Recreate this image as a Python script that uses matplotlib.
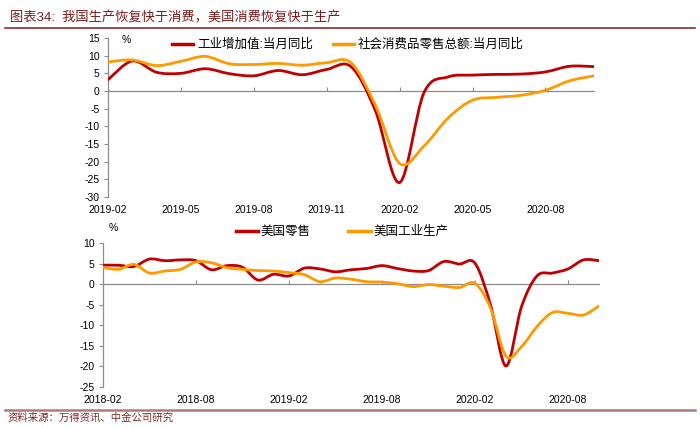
"""
plot.py
-------
Two stacked panels: China IP vs retail sales (top), US retail vs US IP (bottom).
Lines are drawn Excel-style (smoothed through the monthly points).

    python plot.py   ->  out.png
"""

import numpy as np
import pandas as pd
import matplotlib
matplotlib.use("Agg")
import matplotlib.pyplot as plt
from matplotlib.lines import Line2D
from matplotlib.patches import PathPatch
from matplotlib.path import Path

plt.rcParams["font.family"] = ["Liberation Sans", "Noto Sans CJK SC", "DejaVu Sans"]
plt.rcParams["axes.unicode_minus"] = False

# ── data ──────────────────────────────────────────────────────────────────────
TITLE  = "图表34:  我国生产恢复快于消费，美国消费恢复快于生产"
SOURCE = "资料来源：万得资讯、中金公司研究"

# top panel: 2019-02 .. 2020-10, monthly yoy %
cn_months = pd.period_range("2019-02", "2020-10", freq="M").strftime("%Y-%m").tolist()
cn_ip     = [3.2, 8.5, 5.3, 5.0, 6.3, 4.9, 4.3, 5.8, 4.6, 6.1, 6.9, -5.5,
             -25.9, -0.5, 4.0, 4.5, 4.7, 4.8, 5.4, 7.0, 6.9]
cn_retail = [8.2, 8.8, 7.2, 8.4, 9.8, 7.7, 7.5, 7.8, 7.3, 8.0, 8.0, -4.0,
             -20.5, -15.6, -7.6, -2.6, -1.8, -1.2, 0.2, 2.9, 4.3]
cn_labels = ["工业增加值:当月同比", "社会消费品零售总额:当月同比"]
cn_yticks = [-30, -25, -20, -15, -10, -5, 0, 5, 10, 15]

# bottom panel: 2018-02 .. 2020-10, monthly yoy %
us_months = pd.period_range("2018-02", "2020-10", freq="M").strftime("%Y-%m").tolist()
us_retail = [4.6, 4.6, 4.3, 6.1, 5.7, 5.9, 5.7, 3.5, 4.5, 4.1, 1.0, 2.4,
             2.0, 3.9, 3.7, 3.0, 3.5, 3.8, 4.5, 3.8, 3.2, 3.3, 5.5, 4.9,
             5.1, -5.0, -19.9, -5.5, 2.0, 2.7, 3.7, 5.9, 5.7]
us_ip     = [4.1, 3.6, 4.8, 2.7, 3.2, 3.6, 5.4, 5.2, 4.0, 3.6, 3.3, 3.2,
             2.8, 2.3, 0.6, 1.5, 1.2, 0.6, 0.5, 0.1, -0.6, -0.1, -0.5, -0.8,
             0.2, -5.8, -17.5, -15.2, -10.3, -6.9, -7.1, -7.5, -5.3]
us_labels = ["美国零售", "美国工业生产"]
us_yticks = [-25, -20, -15, -10, -5, 0, 5, 10]

RED    = "#C00000"
ORANGE = "#FF9900"
GREY   = "#8C8C8C"
MAROON = "#7B1C1C"


# ── helpers ───────────────────────────────────────────────────────────────────
def smooth_path(xs, ys):
    """Catmull-Rom through the points, as cubic Bezier segments (Excel 'smoothed line')."""
    pts = np.column_stack([xs, ys]).astype(float)
    ext = np.vstack([pts[0], pts, pts[-1]])
    verts, codes = [pts[0]], [Path.MOVETO]
    for i in range(len(pts) - 1):
        p0, p1, p2, p3 = ext[i], ext[i + 1], ext[i + 2], ext[i + 3]
        verts += [p1 + (p2 - p0) / 6, p2 - (p3 - p1) / 6, p2]
        codes += [Path.CURVE4] * 3
    return Path(verts, codes)


def draw_panel(ax, months, series, colors, yticks, step):
    x = np.arange(len(months))
    for ys, c in zip(series, colors):
        ax.add_patch(PathPatch(smooth_path(x, ys), fill=False, edgecolor=c,
                               lw=2.0, capstyle="round", joinstyle="round", zorder=3))

    ax.set_xlim(0, len(months) - 1)
    ax.set_ylim(yticks[0], yticks[-1])
    ax.set_yticks(yticks)
    ax.set_xticks(x[::step])
    ax.set_xticklabels(months[::step])

    for s in ("top", "right", "bottom"):
        ax.spines[s].set_visible(False)
    ax.spines["left"].set_color(GREY)
    ax.spines["left"].set_linewidth(0.9)
    ax.tick_params(axis="y", length=3, width=0.8, color=GREY, pad=3, labelsize=7.5)
    ax.tick_params(axis="x", length=0, pad=6, labelsize=7.5)

    # zero line carries the x ticks (pointing up), labels stay at the bottom
    zero = (0 - yticks[0]) / (yticks[-1] - yticks[0])
    sec = ax.secondary_xaxis(zero)
    sec.set_xticks(x[::step])
    sec.tick_params(axis="x", direction="out", length=3, width=0.8, color=GREY,
                    labeltop=False, labelbottom=False)
    for s in sec.spines.values():
        s.set_color(GREY)
        s.set_linewidth(0.9)


def legend_handles(colors):
    return [Line2D([], [], color=c, lw=2.5) for c in colors]


# ── main ──────────────────────────────────────────────────────────────────────
def main():
    fig = plt.figure(figsize=(7.0, 4.28), dpi=100)

    ax_top = fig.add_axes([0.1543, 0.5397, 0.6943, 0.3715])
    ax_bot = fig.add_axes([0.1471, 0.0958, 0.7086, 0.3364])

    draw_panel(ax_top, cn_months, [cn_ip, cn_retail], [RED, ORANGE], cn_yticks, 3)
    draw_panel(ax_bot, us_months, [us_retail, us_ip], [RED, ORANGE], us_yticks, 6)

    ax_top.text(0.028, 0.985, "%", transform=ax_top.transAxes, fontsize=7.5, va="center")
    ax_bot.text(0.012, 1.104, "%", transform=ax_bot.transAxes, fontsize=7.5, va="center")

    fig.legend(legend_handles([RED, ORANGE]), cn_labels, loc="center left",
               bbox_to_anchor=(0.2457, 0.895), ncol=2, frameon=False, fontsize=9,
               handlelength=1.7, handletextpad=0.3, columnspacing=1.6,
               borderpad=0, borderaxespad=0)
    fig.legend(legend_handles([RED, ORANGE]), us_labels, loc="center left",
               bbox_to_anchor=(0.337, 0.458), ncol=2, frameon=False, fontsize=9,
               handlelength=1.8, handletextpad=0.2, columnspacing=3.0,
               borderpad=0, borderaxespad=0)

    # title + rules + source
    fig.text(10 / 700, 1 - 18 / 428, TITLE, color=MAROON, fontsize=9.5, va="center")
    fig.add_artist(Line2D([5 / 700, 695 / 700], [1 - 27.5 / 428] * 2,
                          color=MAROON, lw=1.1, transform=fig.transFigure))
    fig.add_artist(Line2D([5 / 700, 695 / 700], [1 - 409.5 / 428] * 2,
                          color="#B07A7A", lw=1.8, transform=fig.transFigure))
    fig.text(8 / 700, 1 - 418 / 428, SOURCE, color="#7B2B2B", fontsize=7.5, va="center")

    fig.savefig("out.png", dpi=100)
    plt.close(fig)


if __name__ == "__main__":
    main()
